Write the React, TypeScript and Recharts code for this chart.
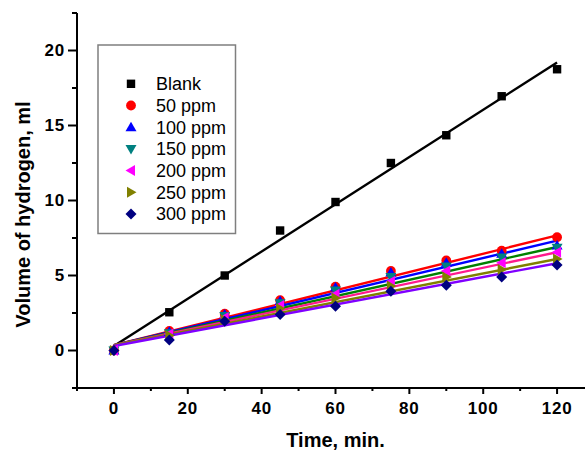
import React from "react"
import { ComposedChart, Scatter, Line, XAxis, YAxis, Label } from "recharts"

const time = [0, 15, 30, 45, 60, 75, 90, 105, 120]
const blank = [0, 2.55, 5.0, 8.0, 9.9, 12.5, 14.35, 16.95, 18.75]
const ppm50 = [0, 1.3, 2.45, 3.35, 4.25, 5.3, 6.0, 6.65, 7.55]
const ppm100 = [0, 1.25, 2.4, 3.3, 4.2, 5.2, 5.85, 6.45, 7.0]
const ppm150 = [0, 1.15, 2.3, 3.15, 4.0, 4.9, 5.6, 6.2, 6.85]
const ppm200 = [0, 1.1, 2.2, 3.0, 3.75, 4.6, 5.3, 5.85, 6.55]
const ppm250 = [0, 1.0, 2.05, 2.8, 3.5, 4.3, 4.9, 5.4, 6.1]
const ppm300 = [0, 0.7, 1.95, 2.4, 2.95, 3.95, 4.35, 4.9, 5.7]

// linear fit lines, start/end
const fitTime = [0, 120]
const fitBlank = [0.3, 19.2]
const fit50 = [0.35, 7.67]
const fit100 = [0.35, 7.33]
const fit150 = [0.35, 6.9]
const fit200 = [0.35, 6.55]
const fit250 = [0.35, 6.1]
const fit300 = [0.3, 5.82]

const xTicks = [-10, 0, 10, 20, 30, 40, 50, 60, 70, 80, 90, 100, 110, 120, 130]
const yTicks = [-2.5, 0, 2.5, 5, 7.5, 10, 12.5, 15, 17.5, 20, 22.5]

type Shape = "square" | "circle" | "up" | "down" | "left" | "right" | "diamond"

const SERIES: { name: string; values: number[]; fit: number[]; shape: Shape; color: string; line: string }[] = [
  { name: "Blank", values: blank, fit: fitBlank, shape: "square", color: "#000000", line: "#000000" },
  { name: "50 ppm", values: ppm50, fit: fit50, shape: "circle", color: "#ff0000", line: "#ff0000" },
  { name: "100 ppm", values: ppm100, fit: fit100, shape: "up", color: "#0000ff", line: "#0000ff" },
  { name: "150 ppm", values: ppm150, fit: fit150, shape: "down", color: "#008080", line: "#008000" },
  { name: "200 ppm", values: ppm200, fit: fit200, shape: "left", color: "#ff00ff", line: "#ff1a8c" },
  { name: "250 ppm", values: ppm250, fit: fit250, shape: "right", color: "#808000", line: "#808000" },
  { name: "300 ppm", values: ppm300, fit: fit300, shape: "diamond", color: "#000080", line: "#8000ff" },
]

const FONT = '"Liberation Sans", Arial, sans-serif'

function Marker({ cx, cy, shape, color }: { cx: number; cy: number; shape: Shape; color: string }) {
  if (cx == null || cy == null) return null
  const s = 5
  switch (shape) {
    case "square":
      return <rect x={cx - 4.2} y={cy - 4.2} width={8.4} height={8.4} fill={color} />
    case "circle":
      return <circle cx={cx} cy={cy} r={4.9} fill={color} />
    case "up":
      return <polygon points={`${cx},${cy - s - 0.5} ${cx + s + 0.5},${cy + s - 1} ${cx - s - 0.5},${cy + s - 1}`} fill={color} />
    case "down":
      return <polygon points={`${cx},${cy + s + 0.5} ${cx + s + 0.5},${cy - s + 1} ${cx - s - 0.5},${cy - s + 1}`} fill={color} />
    case "left":
      return <polygon points={`${cx - s - 0.5},${cy} ${cx + s - 1},${cy - s - 0.5} ${cx + s - 1},${cy + s + 0.5}`} fill={color} />
    case "right":
      return <polygon points={`${cx + s + 0.5},${cy} ${cx - s + 1},${cy - s - 0.5} ${cx - s + 1},${cy + s + 0.5}`} fill={color} />
    case "diamond":
      return <polygon points={`${cx},${cy - s - 0.5} ${cx + s + 0.5},${cy} ${cx},${cy + s + 0.5} ${cx - s - 0.5},${cy}`} fill={color} />
  }
  return null
}

const YTick = (props: any) => {
  const { x, y, payload } = props
  const major = payload.value % 5 === 0
  return (
    <g>
      <line x1={x - (major ? 9 : 5)} x2={x} y1={y} y2={y} stroke="#000" strokeWidth={2} />
      {major && (
        <text x={x - 12} y={y + 5.8} textAnchor="end" fontSize={17} fontWeight="bold" letterSpacing={0.8} fontFamily={FONT} fill="#000">
          {payload.value}
        </text>
      )}
    </g>
  )
}

const XTick = (props: any) => {
  const { x, y, payload } = props
  const major = payload.value % 20 === 0
  return (
    <g>
      <line x1={x} x2={x} y1={y} y2={y + (major ? 6 : 3)} stroke="#000" strokeWidth={2} />
      {major && (
        <text x={x} y={y + 25.8} textAnchor="middle" fontSize={17} fontWeight="bold" letterSpacing={0.8} fontFamily={FONT} fill="#000">
          {payload.value}
        </text>
      )}
    </g>
  )
}

const YTitle = (props: any) => {
  const vb = props.viewBox || { x: 0, y: 13, width: 77, height: 375 }
  const cx = 23
  const cy = vb.y + vb.height / 2 + 14
  return (
    <text
      x={cx}
      y={cy}
      transform={`rotate(-90 ${cx} ${cy})`}
      textAnchor="middle"
      dominantBaseline="central"
      fontSize={20}
      fontWeight="bold"
      fontFamily={FONT}
      fill="#000"
    >
      Volume of hydrogen, ml
    </text>
  )
}

function LegendBox() {
  return (
    <svg
      width={140}
      height={191}
      style={{ position: "absolute", left: 97, top: 43.5, overflow: "visible" }}
    >
      <rect x={1} y={1} width={137.5} height={188.5} fill="#fff" stroke="#7f7f7f" strokeWidth={1.5} />
      {SERIES.map((s, i) => {
        const cy = 39.8 + i * 21.7
        return (
          <g key={s.name}>
            <Marker cx={34} cy={cy} shape={s.shape} color={s.color} />
            <text x={59} y={cy + 6.3} fontSize={18} fontFamily={FONT} fill="#000">
              {s.name}
            </text>
          </g>
        )
      })}
    </svg>
  )
}

export default function App() {
  return (
    <div style={{ position: "absolute", left: 0, top: 0, width: 585, height: 451, overflow: "hidden", background: "#fff" }}>
      <ComposedChart width={600} height={451} margin={{ top: 13, right: 6, left: 0, bottom: 0 }}>
        <XAxis
          type="number"
          dataKey="x"
          domain={[-10, 130]}
          ticks={xTicks}
          interval={0}
          tickSize={0}
          tickMargin={0}
          tickLine={false}
          tick={<XTick />}
          axisLine={{ stroke: "#000", strokeWidth: 2 }}
          height={63}
          allowDataOverflow
        >
          <Label
            value="Time, min."
            position="insideBottom"
            offset={4}
            style={{ fontSize: 20, fontWeight: "bold", fontFamily: FONT, fill: "#000" }}
          />
        </XAxis>
        <YAxis
          type="number"
          dataKey="y"
          domain={[-2.5, 22.5]}
          ticks={yTicks}
          interval={0}
          tickSize={0}
          tickMargin={0}
          tickLine={false}
          tick={<YTick />}
          axisLine={{ stroke: "#000", strokeWidth: 2 }}
          width={77}
          allowDataOverflow
        >
          <Label content={<YTitle />} />
        </YAxis>
        {SERIES.map((s) => (
          <Scatter
            key={`pts-${s.name}`}
            name={s.name}
            data={time.map((t, i) => ({ x: t, y: s.values[i] }))}
            dataKey="y"
            isAnimationActive={false}
            shape={(p: any) => <Marker cx={p.cx} cy={p.cy} shape={s.shape} color={s.color} />}
          />
        ))}
        {SERIES.map((s) => (
          <Line
            key={`fit-${s.name}`}
            data={fitTime.map((t, i) => ({ x: t, y: s.fit[i] }))}
            dataKey="y"
            stroke={s.line}
            strokeWidth={2.4}
            dot={false}
            activeDot={false}
            legendType="none"
            isAnimationActive={false}
          />
        ))}
      </ComposedChart>
      <LegendBox />
    </div>
  )
}
